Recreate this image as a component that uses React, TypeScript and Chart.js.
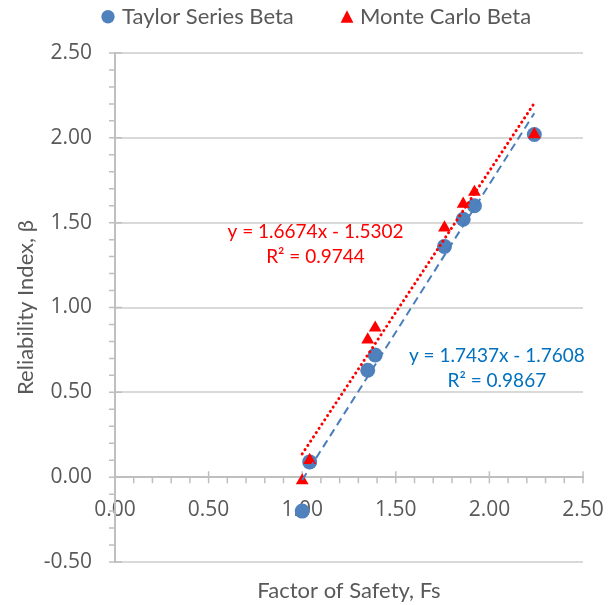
import React, { useEffect, useRef } from "react";
import { Chart, registerables } from "chart.js";

Chart.register(...registerables);

// Factor of safety for each analysed case and the reliability index from each method
const factorOfSafety = [1.0, 1.04, 1.35, 1.39, 1.76, 1.86, 1.92, 2.24];
const taylorBeta = [-0.2, 0.09, 0.63, 0.72, 1.36, 1.52, 1.6, 2.02];
const monteCarloBeta = [-0.02, 0.1, 0.81, 0.88, 1.47, 1.61, 1.68, 2.02];

// Linear trendline coefficients
const taylorFit = { slope: 1.7437, intercept: -1.7608, r2: 0.9867 };
const monteCarloFit = { slope: 1.6674, intercept: -1.5302, r2: 0.9744 };

// Axis tick values
const xTickValues = [0, 0.5, 1.0, 1.5, 2.0, 2.5];
const yTickValues = [-0.5, 0, 0.5, 1.0, 1.5, 2.0, 2.5];

const seriesNames = ["Taylor Series Beta", "Monte Carlo Beta"];
const xTitle = "Factor of Safety, Fs";
const yTitle = "Reliability Index, β";

const FONT = "Lato, 'Noto Sans', sans-serif";
const NUM_FONT = "'Open Sans', 'Noto Sans', sans-serif";
const TEXT = "#595959";
const AXIS = "#bfbfbf";
const BLUE = "#4f81bd";
const RED = "#ff0000";
const BLUE_TEXT = "#0070c0";

const fmt = (v: number) => Number(v).toFixed(2);

function trendPoints(fit: { slope: number; intercept: number }, xs: number[]) {
  const lo = Math.min(...xs);
  const hi = Math.max(...xs);
  return [
    { x: lo, y: fit.slope * lo + fit.intercept },
    { x: hi, y: fit.slope * hi + fit.intercept },
  ];
}

function equationText(fit: { slope: number; intercept: number; r2: number }) {
  const sign = fit.intercept < 0 ? "-" : "+";
  return [
    `y = ${fit.slope.toFixed(4)}x ${sign} ${Math.abs(fit.intercept).toFixed(4)}`,
    `R² = ${fit.r2.toFixed(4)}`,
  ];
}

const decorations = {
  id: "decorations",
  beforeDatasetsDraw(chart: any) {
    const { ctx } = chart;
    const x = chart.scales.x;
    const y = chart.scales.y;
    const x0 = x.getPixelForValue(0);
    const y0 = y.getPixelForValue(0);
    ctx.save();
    ctx.strokeStyle = AXIS;
    ctx.lineWidth = 1.5;
    ctx.beginPath();
    // y axis: minor marks outside, major marks crossing
    for (let i = -5; i <= 25; i++) {
      const py = y.getPixelForValue(i / 10);
      ctx.moveTo(x0 - 6, py);
      ctx.lineTo(i % 5 === 0 ? x0 + 7 : x0, py);
    }
    // x axis: minor marks below, major marks crossing
    for (let i = 1; i <= 25; i++) {
      const px = x.getPixelForValue(i / 10);
      ctx.moveTo(px, i % 5 === 0 ? y0 - 6 : y0);
      ctx.lineTo(px, y0 + 6);
    }
    ctx.stroke();
    ctx.restore();
  },
  afterDatasetsDraw(chart: any) {
    const { ctx } = chart;
    const x = chart.scales.x;
    const y = chart.scales.y;
    ctx.save();
    ctx.font = `19px ${FONT}`;
    ctx.textAlign = "center";
    ctx.textBaseline = "middle";
    const drawBlock = (lines: string[], cx: number, cy: number, color: string) => {
      ctx.fillStyle = color;
      const px = x.getPixelForValue(cx);
      const py = y.getPixelForValue(cy);
      ctx.fillText(lines[0], px, py - 12.5);
      ctx.fillText(lines[1], px, py + 12.5);
    };
    drawBlock(equationText(monteCarloFit), 1.071, 1.371, RED);
    drawBlock(equationText(taylorFit), 2.04, 0.644, BLUE_TEXT);
    ctx.restore();
  },
  afterDraw(chart: any) {
    const { ctx, chartArea } = chart;
    ctx.save();
    ctx.font = `22px ${FONT}`;
    ctx.textBaseline = "alphabetic";

    // legend
    ctx.fillStyle = BLUE;
    ctx.beginPath();
    ctx.arc(108, 16.7, 6.7, 0, Math.PI * 2);
    ctx.fill();
    ctx.fillStyle = RED;
    ctx.beginPath();
    ctx.moveTo(347, 10.2);
    ctx.lineTo(353.4, 22.7);
    ctx.lineTo(340.6, 22.7);
    ctx.closePath();
    ctx.fill();
    ctx.fillStyle = TEXT;
    ctx.textAlign = "left";
    ctx.fillText(seriesNames[0], 122, 23.5);
    ctx.fillText(seriesNames[1], 360, 23.5);

    // axis titles
    ctx.textAlign = "center";
    ctx.fillText(xTitle, (chartArea.left + chartArea.right) / 2, 598);
    ctx.translate(33, (chartArea.top + chartArea.bottom) / 2);
    ctx.rotate(-Math.PI / 2);
    ctx.fillText(yTitle, 0, 0);
    ctx.restore();
  },
};

export default function App() {
  const canvasRef = useRef<HTMLCanvasElement>(null);

  useEffect(() => {
    const canvas = canvasRef.current;
    if (!canvas) return;
    const chart = new Chart(canvas, {
      type: "scatter",
      data: {
        datasets: [
          {
            label: "Monte Carlo trend",
            data: trendPoints(monteCarloFit, factorOfSafety),
            showLine: true,
            borderColor: RED,
            borderWidth: 3,
            borderDash: [0.1, 5],
            borderCapStyle: "round",
            pointRadius: 0,
            order: 0,
          },
          {
            label: "Taylor trend",
            data: trendPoints(taylorFit, factorOfSafety),
            showLine: true,
            borderColor: "#4a7ebb",
            borderWidth: 2,
            borderDash: [8, 5],
            pointRadius: 0,
            order: 1,
          },
          {
            label: seriesNames[1],
            data: factorOfSafety.map((fs, i) => ({ x: fs, y: monteCarloBeta[i] })),
            pointStyle: "triangle",
            pointRadius: 7.4,
            backgroundColor: RED,
            borderColor: RED,
            borderWidth: 0,
            order: 2,
          },
          {
            label: seriesNames[0],
            data: factorOfSafety.map((fs, i) => ({ x: fs, y: taylorBeta[i] })),
            pointStyle: "circle",
            pointRadius: 7.5,
            backgroundColor: BLUE,
            borderColor: BLUE,
            borderWidth: 0,
            order: 3,
          },
        ],
      },
      options: {
        animation: false,
        responsive: false,
        devicePixelRatio: 1,
        layout: { padding: { left: 0, right: 27, top: 53, bottom: 43 } },
        plugins: {
          legend: { display: false },
          tooltip: { enabled: false },
        },
        scales: {
          x: {
            type: "linear",
            min: 0,
            max: 2.5,
            position: { y: 0 } as any,
            afterBuildTicks: (s: any) => {
              s.ticks = xTickValues.map((v) => ({ value: v }));
            },
            afterFit: (s: any) => {
              s.height = 43;
              s.paddingLeft = 0;
              s.paddingRight = 0;
            },
            ticks: {
              callback: (v: any) => fmt(v),
              color: TEXT,
              font: { family: NUM_FONT, size: 21 },
              padding: 14,
              maxRotation: 0,
              autoSkip: false,
            },
            grid: { display: false, tickLength: 6 },
            border: { display: true, color: AXIS, width: 2 },
          },
          y: {
            type: "linear",
            min: -0.5,
            max: 2.5,
            position: "left",
            afterBuildTicks: (s: any) => {
              s.ticks = yTickValues.map((v) => ({ value: v }));
            },
            afterFit: (s: any) => {
              s.width = 115;
              s.paddingTop = 0;
              s.paddingBottom = 0;
            },
            ticks: {
              callback: (v: any) => fmt(v),
              color: TEXT,
              font: { family: NUM_FONT, size: 21 },
              padding: 23,
              autoSkip: false,
            },
            grid: { color: "#d9d9d9", lineWidth: 2, drawTicks: false },
            border: { display: true, color: AXIS, width: 2 },
          },
        },
      },
      plugins: [decorations],
    });
    return () => chart.destroy();
  }, []);

  return (
    <div style={{ position: "fixed", left: 0, top: 0, width: 610, height: 605, background: "#ffffff" }}>
      <canvas ref={canvasRef} width={610} height={605} style={{ display: "block", width: 610, height: 605 }} />
    </div>
  );
}
